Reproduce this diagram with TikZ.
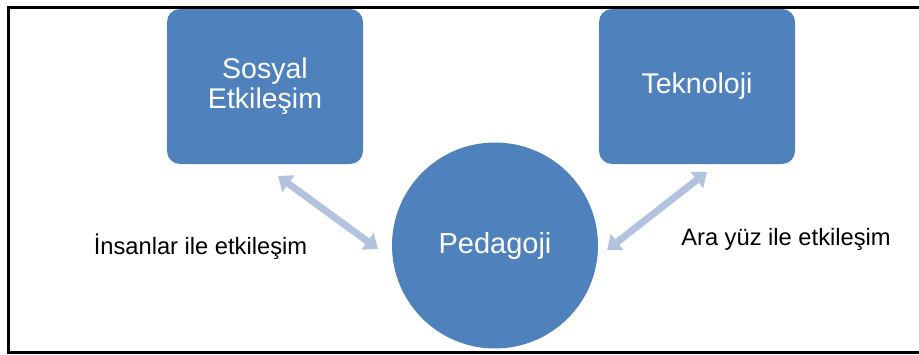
\documentclass[tikz,border=0pt]{standalone}
\usepackage{fontspec}
\setmainfont{Liberation Sans}
\usetikzlibrary{arrows.meta}
\definecolor{kutuMavi}{HTML}{4F81BD}
\definecolor{okMavi}{HTML}{B3C3DF}
\tikzset{
  kutu/.style={draw=none, fill=kutuMavi, rounded corners=13pt, minimum width=196pt,
    minimum height=155pt, text=white, align=center, font=\fontsize{28.5}{30}\selectfont},
  daire/.style={circle, fill=kutuMavi, minimum size=206pt, inner sep=0pt, text=white,
    font=\fontsize{29}{31}\selectfont},
  etiket/.style={font=\fontsize{23.7}{26}\selectfont, inner sep=0pt},
  ciftok/.style={okMavi, line width=7pt,
    {Triangle[width=20pt,length=13pt]}-{Triangle[width=20pt,length=13pt]}}
}
\begin{document}
\begin{tikzpicture}[x=1pt,y=-1pt]
    \useasboundingbox (0,0) rectangle (919,354);
    \draw[line width=3pt] (919,7) -- (8,7) -- (8,352) -- (919,352);

    \node[kutu] (sosyal) at (265,86.5) {Sosyal\\Etkileşim};
    \node[kutu] (teknoloji) at (697,86.5) {Teknoloji};
    \node[daire] (pedagoji) at (495,245.5) {Pedagoji};

    \coordinate (solUst) at (278,176);
    \coordinate (solAlt) at (378,249);
    \coordinate (sagUst) at (707,172);
    \coordinate (sagAlt) at (607,250);

    \draw[ciftok] (solUst) -- (solAlt);
    \draw[ciftok] (sagUst) -- (sagAlt);

    \node[etiket] (insanlar) at (200.5,247) {İnsanlar ile etkileşim};
    \node[etiket] (arayuz) at (786,239) {Ara yüz ile etkileşim};
\end{tikzpicture}
\end{document}
